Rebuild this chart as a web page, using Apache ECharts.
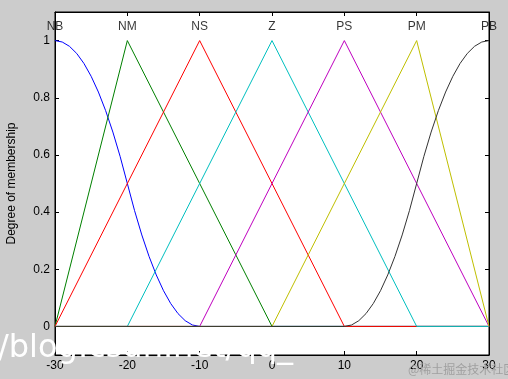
<!DOCTYPE html>
<html>
<head>
<meta charset="utf-8">
<script src="https://cdn.jsdelivr.net/npm/echarts@6/dist/echarts.min.js"></script>
<style>html,body{margin:0;padding:0;background:#cccccc}#c{width:508px;height:379px}</style>
</head>
<body>
<div id="c"></div>
<script>
// ---- data ----
const xTicks = [-30, -20, -10, 0, 10, 20, 30];
const yTicks = [0, 0.2, 0.4, 0.6, 0.8, 1];
const mfNames = ['NB', 'NM', 'NS', 'Z', 'PS', 'PM', 'PB'];
const mfPeaks = [-30, -20, -10, 0, 10, 20, 30];
const mfColors = ['#0000ff', '#008000', '#ff0000', '#00bfbf', '#bf00bf', '#bfbf00', '#333333'];

const nbX = [-30,-29,-28,-27,-26,-25,-24,-23,-22,-21,-20,-19,-18,-17,-16,-15,-14,-13,-12,-11,-10,30];
const nbY = [1,0.995,0.98,0.955,0.92,0.875,0.82,0.755,0.68,0.595,0.5,0.405,0.32,0.245,0.18,0.125,0.08,0.045,0.02,0.005,0,0];
const nmX = [-30, -20, 0, 30];
const nmY = [0, 1, 0, 0];
const nsX = [-30, -10, 10, 30];
const nsY = [0, 1, 0, 0];
const zX = [-30, -20, 0, 20, 30];
const zY = [0, 0, 1, 0, 0];
const psX = [-30, -10, 10, 30];
const psY = [0, 0, 1, 0];
const pmX = [-30, 0, 20, 30];
const pmY = [0, 0, 1, 0];
const pbX = [-30,10,11,12,13,14,15,16,17,18,19,20,21,22,23,24,25,26,27,28,29,30];
const pbY = [0,0,0.005,0.02,0.045,0.08,0.125,0.18,0.245,0.32,0.405,0.5,0.595,0.68,0.755,0.82,0.875,0.92,0.955,0.98,0.995,1];

const mfX = [nbX, nmX, nsX, zX, psX, pmX, pbX];
const mfY = [nbY, nmY, nsY, zY, psY, pmY, pbY];

// ---- chart ----
const font = '"Liberation Sans", Arial, sans-serif';
const chart = echarts.init(document.getElementById('c'), null, {renderer: 'canvas'});
const zip = (a, b) => a.map((v, i) => [v, b[i]]);

const series = mfNames.map((n, i) => ({
  name: n,
  type: 'line',
  data: zip(mfX[i], mfY[i]),
  showSymbol: false,
  symbol: 'none',
  lineStyle: {color: mfColors[i], width: 1},
  itemStyle: {color: mfColors[i]},
  animation: false,
  silent: true
}));

series.push({
  type: 'scatter',
  symbolSize: 0,
  data: mfNames.map((n, i) => ({value: [mfPeaks[i], 1.047], name: n})),
  label: {
    show: true, position: 'inside', formatter: p => p.name,
    color: '#000', fontSize: 12, fontFamily: font
  },
  animation: false,
  silent: true
});

chart.setOption({
  backgroundColor: '#cccccc',
  animation: false,
  grid: {left: 55, top: 12, width: 434, height: 343, show: true, backgroundColor: '#ffffff', borderColor: '#000', borderWidth: 1, containLabel: false, outerBoundsMode: 'none'},
  xAxis: [{
    type: 'value', min: -30, max: 30, interval: 10, position: 'bottom',
    axisLine: {show: true, onZero: false, lineStyle: {color: '#000', width: 1}},
    axisTick: {show: true, inside: true, length: 4, lineStyle: {color: '#000'}},
    axisLabel: {color: '#000', fontSize: 12, fontFamily: font, margin: 5},
    splitLine: {show: false}
  }, {
    type: 'value', min: -30, max: 30, interval: 10, position: 'top',
    axisLine: {show: true, onZero: false, lineStyle: {color: '#000', width: 1}},
    axisTick: {show: true, inside: true, length: 4, lineStyle: {color: '#000'}},
    axisLabel: {show: false},
    splitLine: {show: false}
  }],
  yAxis: [{
    type: 'value', min: -0.1, max: 1.1, position: 'left',
    name: 'Degree of membership', nameLocation: 'middle', nameGap: 37,
    nameTextStyle: {color: '#000', fontSize: 12, fontFamily: font},
    axisLine: {show: true, onZero: false, lineStyle: {color: '#000', width: 1}},
    axisTick: {show: true, inside: true, length: 4, customValues: yTicks, lineStyle: {color: '#000'}},
    axisLabel: {color: '#000', fontSize: 12, fontFamily: font, margin: 5, customValues: yTicks, formatter: v => String(+v.toFixed(1))},
    splitLine: {show: false}
  }, {
    type: 'value', min: -0.1, max: 1.1, position: 'right',
    axisLine: {show: true, onZero: false, lineStyle: {color: '#000', width: 1}},
    axisTick: {show: true, inside: true, length: 4, customValues: yTicks, lineStyle: {color: '#000'}},
    axisLabel: {show: false, customValues: yTicks},
    splitLine: {show: false}
  }],
  series: series,
  graphic: [{
    type: 'text', left: -2, top: 333, z: 100, silent: true,
    style: {text: '/blog.csdn.net/qq_', fill: '#ffffff', fontSize: 32, fontFamily: '"DejaVu Sans", sans-serif'}
  }, {
    type: 'text', left: 408, top: 363, z: 100, silent: true,
    style: {text: '@稀土掘金技术社区', fill: '#a0a0a0', fontSize: 12, fontFamily: '"Noto Sans CJK SC", sans-serif'}
  }]
});
</script>
</body>
</html>
